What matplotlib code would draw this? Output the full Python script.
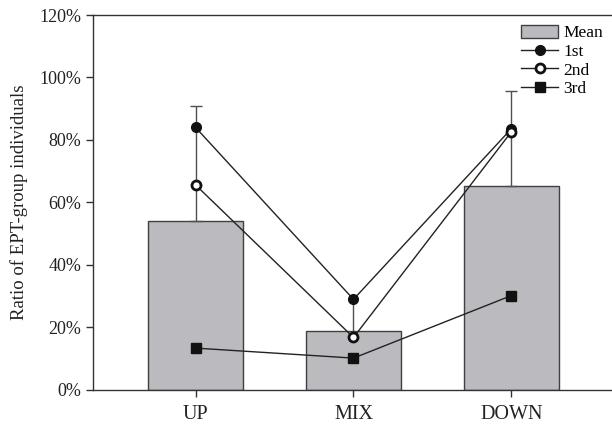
import matplotlib
matplotlib.use("Agg")
import matplotlib.pyplot as plt
import numpy as np
from matplotlib.ticker import FuncFormatter

plt.rcParams['font.family'] = ['Liberation Serif', 'DejaVu Serif']

categories = ["UP", "MIX", "DOWN"]
mean_vals = [54.2, 18.8, 65.4]
err_upper = [36.8, 10.2, 30.2]
first_vals = [84.0, 29.0, 83.6]
second_vals = [65.6, 16.8, 82.6]
third_vals = [13.4, 10.2, 30.2]
yticks = [0, 20, 40, 60, 80, 100, 120]

fig = plt.figure(figsize=(6.12, 4.25), dpi=100)
ax = fig.add_axes([0.152, 0.0824, 0.846, 0.8823])

x = np.arange(len(categories))
bar_color = "#bbbbbf"
edge = "#404040"

ax.bar(x, mean_vals, width=0.6, color=bar_color, edgecolor=edge, linewidth=1.0,
       label="Mean", zorder=2)
# upper error bars only; the MIX cap sits under the 1st marker
caps = [4.5, 0, 4.5]
for xi, m, e, c in zip(x, mean_vals, err_upper, caps):
    ax.errorbar([xi], [m], yerr=[[0], [e]], fmt="none", ecolor="#505050",
                elinewidth=1.0, capsize=c, capthick=1.0, zorder=2.5)

ax.plot(x, first_vals, color="#222222", lw=1.0, marker="o", ms=7,
        mfc="#111111", mec="#111111", label="1st", zorder=3)
ax.plot(x, second_vals, color="#222222", lw=1.0, marker="o", ms=6.5,
        mfc="white", mec="#111111", mew=2.0, label="2nd", zorder=3)
ax.plot(x, third_vals, color="#222222", lw=1.0, marker="s", ms=6.5,
        mfc="#111111", mec="#111111", label="3rd", zorder=3)

ax.set_xlim(-0.65, 2.63)
ax.set_ylim(0, 120)
ax.set_yticks(yticks)
ax.yaxis.set_major_formatter(FuncFormatter(lambda v, p: f"{int(v)}%"))
ax.set_xticks(x)
ax.set_xticklabels(categories)
ax.tick_params(axis="both", direction="out", length=5, width=1.0, color="#333333",
               labelcolor="#222222")
ax.tick_params(axis="y", labelsize=13)
ax.tick_params(axis="x", labelsize=14.5, pad=6)
ax.set_ylabel("Ratio of EPT-group individuals", fontsize=13.5, color="#222222", labelpad=8)

for side in ["left", "top", "bottom"]:
    ax.spines[side].set_color("#333333")
    ax.spines[side].set_linewidth(1.0)
ax.spines["right"].set_visible(False)

handles, labels = ax.get_legend_handles_labels()
order = [labels.index(n) for n in ["Mean", "1st", "2nd", "3rd"]]
leg = ax.legend([handles[i] for i in order], [labels[i] for i in order],
                loc="upper right", bbox_to_anchor=(1.003, 1.0), frameon=False,
                fontsize=12.5, handlelength=2.1, handleheight=0.8, handletextpad=0.3,
                labelspacing=0.12, borderaxespad=0.15)

fig.savefig("out.png", dpi=100)
